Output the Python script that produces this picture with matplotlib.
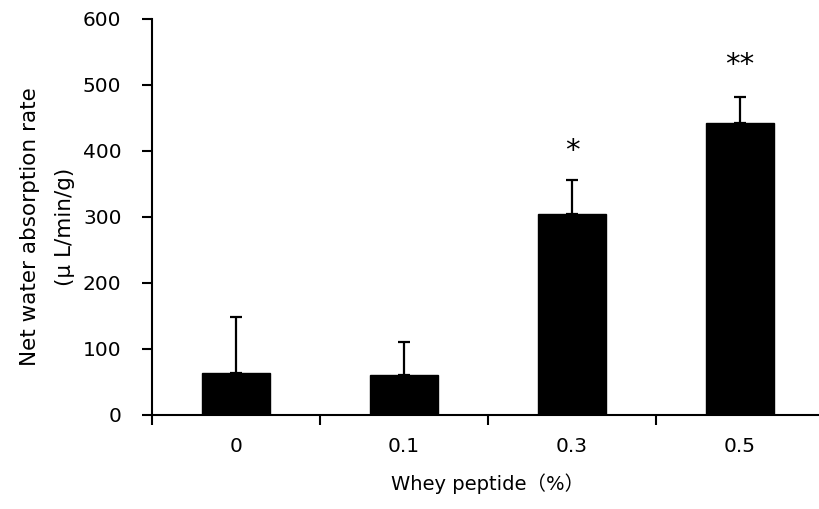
import matplotlib
matplotlib.use("Agg")
import matplotlib.pyplot as plt

plt.rcParams["font.family"] = ["DejaVu Sans", "Noto Sans CJK JP"]

doses = ["0", "0.1", "0.3", "0.5"]
means = [64, 61, 305, 443]
sem = [84, 50, 51, 39]
marks = ["", "", "*", "**"]
mark_y = [0, 0, 400, 531]

fig = plt.figure(figsize=(8.19, 5.09), dpi=100)
ax = fig.add_axes([152 / 819, 1 - 415 / 509, 672 / 819, 396 / 509])

x = range(len(doses))
ax.bar(x, means, width=0.41, color="black", edgecolor="black", zorder=2)
ax.errorbar(x, means, yerr=[[0] * len(sem), sem], fmt="none", ecolor="black",
            elinewidth=1.6, capsize=4.5, capthick=1.6, zorder=3)
for xi, m, my in zip(x, marks, mark_y):
    if m:
        ax.text(xi, my, m, ha="center", va="center", fontsize=21, color="black")

ax.set_xlim(-0.5, 3.5)
ax.set_ylim(0, 600)
ax.set_yticks(range(0, 601, 100))
ax.set_xticks([-0.5, 0.5, 1.5, 2.5])
ax.set_xticklabels([])
ax.set_xticks(list(x), minor=True)
ax.set_xticklabels(doses, minor=True)
ax.tick_params(axis="x", which="minor", length=0, pad=16, labelsize=14.5)
ax.tick_params(axis="x", which="major", length=7, width=1.5, direction="out")
ax.tick_params(axis="y", length=7, width=1.5, direction="out", pad=15, labelsize=14.5)

for s in ("top", "right"):
    ax.spines[s].set_visible(False)
for s in ("left", "bottom"):
    ax.spines[s].set_linewidth(1.5)

ax.set_ylabel("Net water absorption rate\n(μ L/min/g)", fontsize=15.5,
              linespacing=1.95)
ax.yaxis.set_label_coords(-0.115, 0.475)
ax.set_xlabel("Whey peptide（%）", fontsize=14, labelpad=12)

fig.savefig("out.png", dpi=100)
